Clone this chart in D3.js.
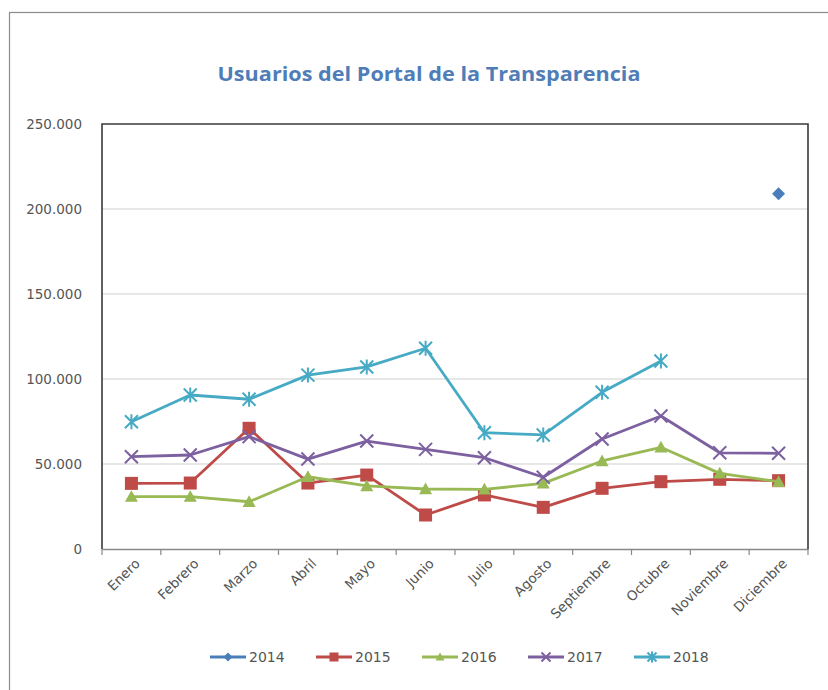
<!DOCTYPE html>
<html><head><meta charset="utf-8">
<script src="https://cdn.jsdelivr.net/npm/d3@7"></script>
<style>body{margin:0;background:#fff}svg{display:block}</style>
</head><body><svg id="c" width="828" height="690"></svg>
<script>
const months = ["Enero","Febrero","Marzo","Abril","Mayo","Junio","Julio","Agosto","Septiembre","Octubre","Noviembre","Diciembre"];
const years = ["2014","2015","2016","2017","2018"];
const s2014 = [null,null,null,null,null,null,null,null,null,null,null,209000];
const s2015 = [38600,38800,71000,38800,43500,20000,31800,24500,35700,39600,41000,40200];
const s2016 = [30800,30800,27800,42500,37100,35300,35100,38600,51800,59800,44500,39600];
const s2017 = [54300,55300,66100,52900,63500,58600,53700,42200,64700,78200,56600,56300];
const s2018 = [74900,90600,88100,102300,107100,118100,68400,67100,92200,110600,null,null];
const yTicks = [0,50000,100000,150000,200000,250000];
const yTickLabels = ["0","50.000","100.000","150.000","200.000","250.000"];
const title = "Usuarios del Portal de la Transparencia";

const series = [s2014,s2015,s2016,s2017,s2018];
const colors = ["#4A7EBB","#BE4B48","#98B954","#7D60A0","#46AAC5"];
const markers = ["diamond","square","triangle","x","star"];

const svg = d3.select("#c");
const L=102, R=808, T=124, B=549;
const x = d3.scaleBand().domain(months).range([L,R]);
const y = d3.scaleLinear().domain([0,250000]).range([B,T]);
const font = "'DejaVu Sans', sans-serif";

// outer frame
svg.append("rect").attr("x",9.5).attr("y",12.5).attr("width",830).attr("height",700)
  .attr("fill","none").attr("stroke","#8c8c8c").attr("stroke-width",1.2);

// title
svg.append("text").attr("x",429).attr("y",81).attr("text-anchor","middle")
  .attr("font-family","'Open Sans', sans-serif").attr("font-weight","bold").attr("font-size",19.5)
  .attr("textLength",423).attr("lengthAdjust","spacingAndGlyphs")
  .attr("fill","#4F7DB8").text(title);

// gridlines
svg.append("g").selectAll("line").data(yTicks.filter(d=>d>0&&d<250000)).join("line")
  .attr("x1",L).attr("x2",R).attr("y1",d=>y(d)).attr("y2",d=>y(d))
  .attr("stroke","#cfcfcf").attr("stroke-width",1.2);

// y axis labels
const ya = svg.append("g").attr("transform",`translate(${L},0)`)
  .call(d3.axisLeft(y).tickValues(yTicks).tickFormat((d,i)=>yTickLabels[i]).tickSize(0).tickPadding(20));
ya.select(".domain").remove();
ya.selectAll("text").attr("font-family",font).attr("font-size",13.5).attr("fill","#555");

// x axis
const xa = svg.append("g").attr("transform",`translate(0,${B})`)
  .call(d3.axisBottom(x).tickSize(0).tickFormat(""));
xa.select(".domain").attr("stroke","#888").attr("stroke-width",1.5);
const bounds = months.map(m=>x(m)).concat([R]);
svg.append("g").selectAll("line").data(bounds).join("line")
  .attr("x1",d=>d).attr("x2",d=>d).attr("y1",B).attr("y2",B+6)
  .attr("stroke","#888").attr("stroke-width",1.2);
svg.append("g").selectAll("text").data(months).join("text")
  .attr("transform",d=>`translate(${x(d)+x.bandwidth()/2+6},${B+12}) rotate(-45)`)
  .attr("text-anchor","end").attr("dy","0.35em")
  .attr("font-family",font).attr("font-size",13.5).attr("fill","#555").text(d=>d);

// plot border (left, top, right)
svg.append("path").attr("d",`M${L},${B}V${T}H${R}V${B}`)
  .attr("fill","none").attr("stroke","#3a3a3a").attr("stroke-width",1.6);

function drawMarker(g, type, cx, cy, color, s){
  if(type==="diamond"){
    g.append("path").attr("d",`M${cx},${cy-s}L${cx+s},${cy}L${cx},${cy+s}L${cx-s},${cy}Z`).attr("fill",color);
  } else if(type==="square"){
    g.append("rect").attr("x",cx-s).attr("y",cy-s).attr("width",2*s).attr("height",2*s).attr("fill",color);
  } else if(type==="triangle"){
    g.append("path").attr("d",`M${cx},${cy-s}L${cx+s},${cy+s*0.8}L${cx-s},${cy+s*0.8}Z`).attr("fill",color);
  } else if(type==="x"){
    g.append("path").attr("d",`M${cx-s},${cy-s}L${cx+s},${cy+s}M${cx-s},${cy+s}L${cx+s},${cy-s}`)
      .attr("stroke",color).attr("stroke-width",2);
  } else if(type==="star"){
    g.append("path").attr("d",`M${cx-s},${cy-s}L${cx+s},${cy+s}M${cx-s},${cy+s}L${cx+s},${cy-s}M${cx},${cy-s-1}L${cx},${cy+s+1}`)
      .attr("stroke",color).attr("stroke-width",2);
  }
}
const sizes = [6.5,6.5,6.5,6.5,6.5];

series.forEach((vals,si)=>{
  const g = svg.append("g");
  const line = d3.line().defined(d=>d!=null).x((d,i)=>x(months[i])+x.bandwidth()/2).y(d=>y(d));
  g.append("path").datum(vals).attr("d",line).attr("fill","none")
    .attr("stroke",colors[si]).attr("stroke-width",2.8).attr("stroke-linejoin","round");
  vals.forEach((v,i)=>{ if(v!=null) drawMarker(g,markers[si],x(months[i])+x.bandwidth()/2,y(v),colors[si],sizes[si]); });
});

// legend
const lg = svg.append("g");
const lx = [210,316,422,528,634];
years.forEach((yr,i)=>{
  const gy = 657;
  lg.append("line").attr("x1",lx[i]).attr("x2",lx[i]+36).attr("y1",gy).attr("y2",gy)
    .attr("stroke",colors[i]).attr("stroke-width",2.8);
  drawMarker(lg,markers[i],lx[i]+18,gy,colors[i],4.5);
  lg.append("text").attr("x",lx[i]+39).attr("y",gy).attr("dy","0.35em")
    .attr("font-family",font).attr("font-size",14).attr("fill","#555").text(yr);
});
</script></body></html>
